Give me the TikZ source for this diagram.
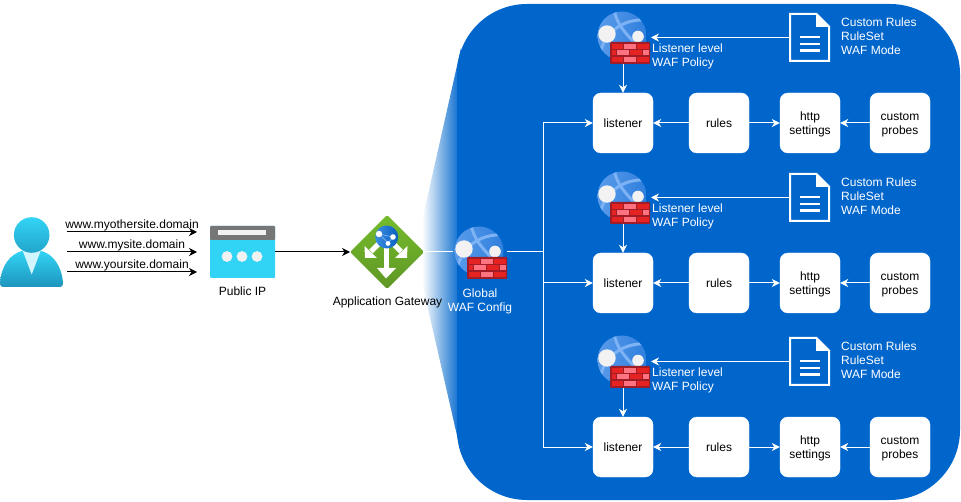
\documentclass[tikz,border=0pt]{standalone}
\usepackage{fontspec}
\setmainfont{Liberation Sans}
\usetikzlibrary{arrows.meta}
\definecolor{panelblue}{HTML}{0066CC}
\definecolor{azcyan}{HTML}{32D4F5}
\definecolor{azcyand}{HTML}{1D94BD}
\definecolor{azcyanm}{HTML}{22A5CB}
\definecolor{bricka}{HTML}{E62323}
\definecolor{brickb}{HTML}{FF7381}
\definecolor{brickd}{HTML}{A01C26}
\definecolor{globelt}{HTML}{7DB2F5}
\definecolor{globea}{HTML}{5A9BEA}
\definecolor{globeb}{HTML}{2F7FDD}
\definecolor{gwa}{HTML}{76BC2D}
\definecolor{gwb}{HTML}{5E9624}
\definecolor{smalla}{HTML}{3B8FE0}
\definecolor{smallb}{HTML}{0A5FC0}
\definecolor{ipgray}{HTML}{767676}
\definecolor{softwhite}{HTML}{F2F2F2}
\definecolor{collar}{HTML}{D0F5FC}
\newcommand{\wafIcon}{%
  \shade[left color=globea,right color=globeb] (0,0) circle (24.5);
  \begin{scope}
    \clip (0,0) circle (24.5);
    \draw[globelt,line width=3pt] (-8,-26) .. controls (-5,-12) and (2,-4) .. (14,8);
    \draw[globelt,line width=3pt] (-21,14) .. controls (-16,-3) and (0,-18) .. (26,-16);
  \end{scope}
  \fill[softwhite] (-15,-2) circle (8.7);
  \fill[softwhite] (16,0.5) circle (5.8);
  \fill[brickd,rounded corners=1pt] (-12,6) rectangle (28,28);
  \foreach \ya in {7.6,21.4} {
    \fill[bricka] (-10.5,\ya) rectangle (1,\ya+5);
    \fill[brickb] (2.2,\ya) rectangle (14,\ya+5);
    \fill[bricka] (15.2,\ya) rectangle (26.5,\ya+5);
  }
  \fill[bricka] (-10.5,14.5) rectangle (-6.5,19.5);
  \fill[brickb] (-5.2,14.5) rectangle (7,19.5);
  \fill[bricka] (8.2,14.5) rectangle (19.5,19.5);
  \fill[brickb] (20.8,14.5) rectangle (26.5,19.5);
}
\newcommand{\dropline}{\rule{0pt}{11pt}}
\tikzset{
  txt/.style={font=\fontsize{12}{14}\selectfont,inner sep=0pt,text=black},
  wtxt/.style={txt,text=white,align=left,anchor=west},
  box/.style={draw=white,fill=white,rounded corners=8pt,minimum width=60pt,minimum height=60pt,inner sep=0pt,align=center,font=\fontsize{12}{14}\selectfont},
  ghost/.style={inner sep=0pt,outer sep=0pt},
  blk/.style={black,line width=1pt,-{Stealth[length=8pt,width=8pt,inset=2.5pt]}},
  wht/.style={white,line width=1pt,-{Stealth[length=8pt,width=8pt,inset=2.5pt]}},
  whtbare/.style={white,line width=1pt},
}
\begin{document}
\begin{tikzpicture}[x=1pt,y=-1pt]
\useasboundingbox (0,0) rectangle (961,502);
% panel
\begin{scope}
  \clip (461,48) -- (415,252) -- (461,453) -- cycle;
  \shade[left color=white,right color=panelblue] (422,40) rectangle (461,460);
\end{scope}
\fill[panelblue,rounded corners=70pt] (457,4) rectangle (960,500);
% user
\node[ghost,minimum width=67pt,minimum height=70pt] (user) at (33.5,252) {};
\shade[top color=azcyan,bottom color=azcyand] (3,287) .. controls (1,287) and (0,285.5) .. (0,283.5)
  .. controls (1,266) and (10,254) .. (22.7,250.7) -- (40.7,250.7)
  .. controls (53,254) and (62,266) .. (63,283.5) .. controls (63,285.5) and (62,287) .. (60,287) -- cycle;
\fill[collar] (22.7,250.7) -- (31.7,274.5) -- (40.7,250.7) -- cycle;
\shade[top color=azcyan,bottom color=azcyanm] (31.7,235) circle (17.8);
% public ip
\node[ghost,minimum width=65pt,minimum height=52pt] (ip) at (242.5,252) {};
\fill[azcyan,rounded corners=1pt] (210,226) rectangle (275,278);
\fill[ipgray,rounded corners=1pt] (210,226) rectangle (275,240);
\fill[softwhite] (218,230) rectangle (266,235.5);
\foreach \xa in {227,242,257} \fill[softwhite] (\xa,256.5) circle (5.4);
\node[txt] (iplabel) at (242.5,291) {Public IP};
% gateway
\node[ghost,minimum width=74pt,minimum height=74pt] (gw) at (387,252) {};
\shade[top color=gwa,bottom color=gwb,rounded corners=1.5pt] (387,215) -- (424,252) -- (387,289) -- (350,252) -- cycle;
\draw[white,line width=5pt] (386,245) -- (386,269);
\fill[white] (377,268) -- (396,268) -- (386,278.5) -- cycle;
\draw[white,line width=5pt] (371,251.5) -- (379,243.5);
\fill[white] (364.5,246) -- (365,258) -- (377,258) -- cycle;
\draw[white,line width=5pt] (401,251.5) -- (393,243.5);
\fill[white] (407.5,246) -- (407,258) -- (395,258) -- cycle;
\shade[left color=smalla,right color=smallb] (386.7,237) circle (11.5);
\draw[globelt,line width=0.7pt] (379,234) -- (393,237) -- (388,243) -- cycle;
\fill[white] (379,234) circle (3.2);
\fill[white] (393,237) circle (2.8);
\fill[white] (388,243.5) circle (2.4);
\node[txt] (gwlabel) at (387.5,302.6) {Application Gateway};
% global waf
\node[ghost,minimum width=54pt,minimum height=54pt] (waf) at (480,252) {};
\begin{scope}[shift={(479,251)}]\wafIcon\end{scope}
\node[txt,text=white,align=center] (waflabel) at (480,301) {Global\\WAF Config};
\coordinate (busm) at (543,252);
% rows
\coordinate (bus1) at (543,123);
\coordinate (bus2) at (543,283);
\coordinate (bus3) at (543,447);
\coordinate (ua) at (67,232);
\coordinate (ub) at (67,252);
\coordinate (uc) at (67,272);
\coordinate (ta) at (197,232);
\coordinate (tb) at (197,252);
\coordinate (tc) at (197,272);
\draw[blk] (ua) -- (ta);
\draw[blk] (ub) -- (tb);
\draw[blk] (uc) -- (tc);
\node[txt] (urla) at (132,225.2) {www.myothersite.domain};
\node[txt] (urlb) at (132,245.8) {www.mysite.domain};
\node[txt] (urlc) at (132,265.8) {www.yoursite.domain};
\draw[blk] (ip.east) -- (gw.west);
\draw[whtbare] (gw.east) -- (waf.west);
\draw[whtbare] (waf.east) -- (busm);
\draw[whtbare] (bus1) -- (bus3);
\foreach \rowi/\rowd/\rowt in {1/0/0,2/160/160.5,3/324/324.5} {
  \node[box] (lis\rowi) at (623,123+\rowd) {listener};
  \node[box] (rul\rowi) at (719,123+\rowd) {rules};
  \node[box] (htp\rowi) at (810,123+\rowd) {\dropline http\\settings};
  \node[box] (prb\rowi) at (900,123+\rowd) {\dropline custom\\probes};
  \node[ghost,minimum width=53pt,minimum height=53pt] (pol\rowi) at (624.5,37.5+\rowd) {};
  \begin{scope}[shift={(622,36+\rowd)}]\wafIcon\end{scope}
  \node[ghost,minimum width=40pt,minimum height=48pt] (doc\rowi) at (809.5,37.5+\rowd) {};
  \draw[white,line width=2pt,fill=panelblue,line join=miter] (790,14+\rowd) -- (816.5,14+\rowd) -- (829,26.5+\rowd) -- (829,61+\rowd) -- (790,61+\rowd) -- cycle;
  \fill[white] (816,13+\rowd) -- (830,26.8+\rowd) -- (816,26.8+\rowd) -- cycle;
  \foreach \ya in {37,43.8,50.6} \draw[white,line width=2.4pt] (799.5,\ya+\rowd) -- (820,\ya+\rowd);
  \node[wtxt] (pt\rowi) at (652,56+\rowt) {Listener level\\WAF Policy};
  \node[wtxt] (ct\rowi) at (841,36+\rowt) {Custom Rules\\RuleSet\\WAF Mode};
  \draw[wht] (bus\rowi) -- (lis\rowi.west);
  \draw[wht] (rul\rowi.west) -- (lis\rowi.east);
  \draw[wht] (rul\rowi.east) -- (htp\rowi.west);
  \draw[wht] (prb\rowi.west) -- (htp\rowi.east);
  \draw[wht] (doc\rowi.west) -- (pol\rowi.east);
  \draw[wht] (lis\rowi.north |- pol\rowi.south) -- (lis\rowi.north);
}
\end{tikzpicture}
\end{document}
